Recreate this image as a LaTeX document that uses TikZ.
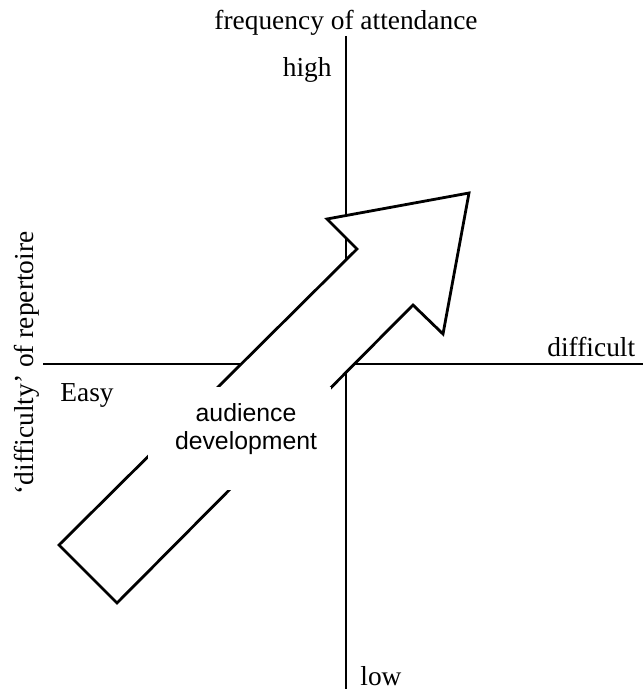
\documentclass[tikz,border=0pt]{standalone}
\usepackage{fontspec}
\setmainfont{Liberation Serif}
\setsansfont{Liberation Sans}
\begin{document}
\begin{tikzpicture}[x=0.5pt,y=-0.5pt,
  axis/.style={line width=1.3pt},
  lbl/.style={inner sep=0pt, font=\fontsize{13.7}{16}\selectfont},
  bigarrow/.style={draw, fill=white, line width=1.4pt, line join=miter},
  arrowtext/.style={inner sep=0pt, align=center, font=\sffamily\fontsize{12.4}{14}\selectfont}]
\useasboundingbox (0,0) rectangle (643,689);
\coordinate (vtop) at (346,36);
\coordinate (vbot) at (346,689);
\coordinate (hleft) at (43,364);
\coordinate (hright) at (643,364);
\draw[axis] (vtop) -- (vbot);
\draw[axis] (hleft) -- (hright);
\draw[bigarrow] (59,545) -- (357,249) -- (327,219) -- (469,193) -- (443,334) -- (413,305) -- (117,603) -- cycle;
\fill[white] (148,387) rectangle (331,490);
\node[arrowtext] (ad) at (246,429) {audience\\development};
\node[lbl, anchor=base] (freq) at (346,30) {frequency of attendance};
\node[lbl, anchor=base east] (high) at (332,77) {high};
\node[lbl, anchor=base west] (low) at (360,685) {low};
\node[lbl, anchor=base west] (diff) at (547,356) {difficult};
\node[lbl, anchor=base west] (easy) at (60,401) {Easy};
\node[lbl, anchor=base, rotate=90] (rep) at (33,363) {`difficulty' of repertoire};
\end{tikzpicture}
\end{document}
